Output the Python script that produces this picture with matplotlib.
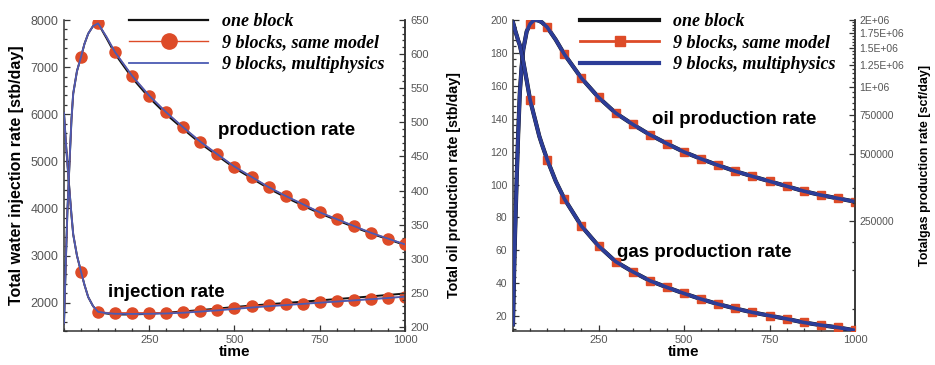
import matplotlib
matplotlib.use('Agg')
import matplotlib.pyplot as plt
from matplotlib.ticker import MultipleLocator, FixedLocator, FixedFormatter, NullFormatter
from matplotlib.lines import Line2D

# ========== [ DATA : left panel (water injection / oil production) ] ==========
t_left = [0, 5, 10, 17, 22, 27, 38, 50, 60, 71, 85, 100, 125, 150, 200, 250, 300, 350, 400,
          450, 500, 550, 600, 650, 700, 750, 800, 850, 900, 950, 1000]

# oil production rate [stb/day] (right axis)
prod_same  = [205, 290, 370, 450, 505, 542, 575, 596, 615, 630, 641, 645, 625, 602.6, 568, 539,
              514.5, 492.5, 471.5, 453, 435, 420, 405, 392, 380, 368, 358, 348, 338, 329.5, 321]
prod_multi = [205, 290, 370, 450, 505, 542, 575, 596, 615, 630, 641, 645, 625, 602.6, 568, 539,
              514.5, 492.5, 471.5, 453, 435, 420, 405, 392, 380, 368, 358, 348, 338, 329.5, 321]
prod_one   = [205, 290, 370, 450, 505, 542, 575, 596, 615, 630, 641, 645, 623, 600, 565, 536,
              511.5, 490, 469, 451, 433, 418, 403, 390, 378, 366.5, 356.5, 346.5, 337, 328.5, 320]

# water injection rate [stb/day] (left axis)
inj_same  = [6030, 5450, 4950, 4300, 3850, 3450, 3000, 2656, 2380, 2120, 1930, 1807, 1790, 1786,
             1786, 1786, 1790, 1799, 1835, 1856, 1892, 1926, 1947, 1968, 1983, 2011, 2032, 2053,
             2082, 2103, 2125]
inj_multi = [6030, 5450, 4950, 4300, 3850, 3450, 3000, 2656, 2380, 2120, 1930, 1807, 1780, 1765,
             1762, 1765, 1772, 1788, 1812, 1838, 1868, 1898, 1925, 1950, 1975, 2000, 2025, 2050,
             2075, 2100, 2130]
inj_one   = [6030, 5450, 4950, 4300, 3850, 3450, 3000, 2656, 2380, 2120, 1930, 1800, 1770, 1750,
             1750, 1765, 1790, 1815, 1845, 1875, 1910, 1940, 1968, 1995, 2022, 2050, 2078, 2105,
             2135, 2165, 2195]

# ========== [ DATA : right panel (oil / gas production) ] ==========
t_right = [0, 3, 6, 11, 15, 20, 25, 30, 40, 50, 60, 67, 77, 85, 100, 125, 150, 200, 250, 300,
           350, 400, 450, 500, 550, 600, 650, 700, 750, 800, 850, 900, 950, 1000]

oil_rate = [15, 45, 70, 105, 130, 156, 171, 182, 193, 197.6, 199.7, 200, 199.5, 198.5, 195.6,
            188, 179.2, 164.7, 153, 143.5, 136.6, 130.3, 124.9, 119.8, 115.6, 111.7, 108.1, 105,
            102, 99, 96, 93.6, 91.6, 89.6]
gas_rate = [1950000, 1880000, 1800000, 1700000, 1620000, 1540000, 1420000, 1300000, 1070000,
            875600, 760000, 690000, 600000, 550000, 471800, 377000, 314600, 237200, 193000,
            164200, 147800, 134600, 125700, 118000, 111300, 105600, 101000, 97000, 93800, 90700,
            87400, 85000, 83000, 80500]

legend_labels = ['one block', '9 blocks, same model', '9 blocks, multiphysics']
gas_ticks = [250000, 500000, 750000, 1000000, 1250000, 1500000, 1750000, 2000000]
gas_tick_labels = ['250000', '500000', '750000', '1E+06', '1.25E+06', '1.5E+06', '1.75E+06', '2E+06']

# ========== [ STYLE ] ==========
BLACK = '#111111'
RED = '#dd4b28'
BLUE_L = '#4b5bb3'
BLUE_R = '#2c3d98'
TICK_C = '#555555'
SPINE_C = '#333333'
SANS = 'Liberation Sans'
LEG_FONT = {'family': 'Liberation Serif', 'weight': 'bold', 'style': 'italic', 'size': 13}

W, H = 935, 365


def frac_box(x0, y0, x1, y1):
    return [x0 / W, 1 - y1 / H, (x1 - x0) / W, (y1 - y0) / H]


def style_axes(ax):
    ax.spines['top'].set_visible(False)
    for s in ax.spines.values():
        s.set_color(SPINE_C)
        s.set_linewidth(1.1)
    ax.tick_params(which='both', direction='in', colors=SPINE_C, labelcolor=TICK_C, width=0.9)
    ax.tick_params(which='major', length=4.5)
    ax.tick_params(which='minor', length=2.5)
    for lab in ax.get_xticklabels() + ax.get_yticklabels():
        lab.set_family(SANS)


fig = plt.figure(figsize=(9.35, 3.65), dpi=100)

# ========== [ LEFT PANEL ] ==========
ax1 = fig.add_axes(frac_box(64, 20, 405, 331))
ax1r = ax1.twinx()

mk_idx_l = [i for i, t in enumerate(t_left) if t > 0 and t % 50 == 0]

ax1.plot(t_left, inj_one, color=BLACK, lw=1.4, zorder=2)
ax1.plot(t_left, inj_same, color=RED, lw=1.0, marker='o', ms=8, mfc=RED, mec=RED,
         markevery=mk_idx_l, zorder=3)
ax1.plot(t_left, inj_multi, color=BLUE_L, lw=1.3, zorder=4)

ax1r.plot(t_left, prod_one, color=BLACK, lw=1.4, zorder=2)
ax1r.plot(t_left, prod_same, color=RED, lw=1.0, marker='o', ms=8, mfc=RED, mec=RED,
          markevery=mk_idx_l, zorder=3)
ax1r.plot(t_left, prod_multi, color=BLUE_L, lw=1.3, zorder=4)

ax1.set_xlim(0, 1000)
ax1.set_ylim(1400, 8000)
ax1r.set_ylim(194, 650)
ax1.xaxis.set_major_locator(FixedLocator([250, 500, 750, 1000]))
ax1.xaxis.set_minor_locator(MultipleLocator(50))
ax1.yaxis.set_major_locator(MultipleLocator(1000))
ax1.yaxis.set_minor_locator(MultipleLocator(200))
ax1r.yaxis.set_major_locator(MultipleLocator(50))
ax1r.yaxis.set_minor_locator(MultipleLocator(10))

style_axes(ax1)
style_axes(ax1r)
ax1.tick_params(axis='x', labelsize=8, pad=3)
ax1.tick_params(axis='y', labelsize=9, pad=4)
ax1r.tick_params(axis='y', labelsize=8, pad=4)
ax1r.spines['left'].set_visible(False)
ax1r.spines['bottom'].set_visible(False)

ax1.text(452, 5665, 'production rate', fontsize=13.5, fontweight='bold', family=SANS,
         va='center', ha='left')
ax1.text(129, 2225, 'injection rate', fontsize=13.5, fontweight='bold', family=SANS,
         va='center', ha='left')

h_left = [Line2D([], [], color=BLACK, lw=1.6),
          Line2D([], [], color=RED, lw=1.0, marker='o', ms=11, mfc=RED, mec=RED),
          Line2D([], [], color=BLUE_L, lw=1.3)]
ax1r.legend(h_left, legend_labels, loc='upper left', bbox_to_anchor=(0.19, 1.023),
            frameon=False, prop=LEG_FONT, handlelength=4.4, handletextpad=0.75,
            labelspacing=0.25, borderpad=0, borderaxespad=0)

# ========== [ RIGHT PANEL ] ==========
ax2 = fig.add_axes(frac_box(513, 20, 855, 331))
ax2r = ax2.twinx()

mk_idx_r = [i for i, t in enumerate(t_right) if t > 0 and t % 50 == 0]

ax2.plot(t_right, oil_rate, color=BLACK, lw=3.0, zorder=2)
ax2.plot(t_right, oil_rate, color=RED, lw=1.6, marker='s', ms=6, mfc=RED, mec=RED,
         markevery=mk_idx_r, zorder=3)
ax2.plot(t_right, oil_rate, color=BLUE_R, lw=2.6, zorder=4)

ax2r.plot(t_right, gas_rate, color=BLACK, lw=3.0, zorder=2)
ax2r.plot(t_right, gas_rate, color=RED, lw=1.6, marker='s', ms=6, mfc=RED, mec=RED,
          markevery=mk_idx_r, zorder=3)
ax2r.plot(t_right, gas_rate, color=BLUE_R, lw=2.6, zorder=4)

ax2.set_xlim(0, 1000)
ax2.set_ylim(11, 200)
ax2r.set_yscale('log')
ax2r.set_ylim(80000, 2000000)
ax2.xaxis.set_major_locator(FixedLocator([250, 500, 750, 1000]))
ax2.xaxis.set_minor_locator(MultipleLocator(50))
ax2.yaxis.set_major_locator(MultipleLocator(20))
ax2.yaxis.set_minor_locator(MultipleLocator(4))
ax2r.yaxis.set_major_locator(FixedLocator(gas_ticks))
ax2r.yaxis.set_major_formatter(FixedFormatter(gas_tick_labels))
ax2r.yaxis.set_minor_locator(FixedLocator([v for v in range(100000, 2000000, 50000)
                                           if v not in gas_ticks]))
ax2r.yaxis.set_minor_formatter(NullFormatter())

style_axes(ax2)
style_axes(ax2r)
ax2.tick_params(axis='x', labelsize=8, pad=3)
ax2.tick_params(axis='y', labelsize=7.5, pad=4)
ax2r.tick_params(axis='y', labelsize=7.5, pad=3)
ax2r.spines['left'].set_visible(False)
ax2r.spines['bottom'].set_visible(False)

ax2.text(406, 139.4, 'oil production rate', fontsize=13.5, fontweight='bold', family=SANS,
         va='center', ha='left')
ax2.text(304, 58.8, 'gas production rate', fontsize=13.5, fontweight='bold', family=SANS,
         va='center', ha='left')

h_right = [Line2D([], [], color=BLACK, lw=3.0),
           Line2D([], [], color=RED, lw=2.0, marker='s', ms=7, mfc=RED, mec=RED),
           Line2D([], [], color=BLUE_R, lw=3.0)]
ax2r.legend(h_right, legend_labels, loc='upper left', bbox_to_anchor=(0.196, 1.023),
            frameon=False, prop=LEG_FONT, handlelength=4.4, handletextpad=0.75,
            labelspacing=0.25, borderpad=0, borderaxespad=0)

# ========== [ AXIS LABELS ] ==========
lab = dict(family=SANS, fontweight='bold', rotation=90, ha='center', va='center')
fig.text(17 / W, 1 - 175 / H, 'Total water injection rate [stb/day]', fontsize=11.5, **lab)
fig.text(454 / W, 1 - 185 / H, 'Total oil production rate [stb/day]', fontsize=10.3, **lab)
fig.text(925 / W, 1 - 165 / H, 'Totalgas production rate [scf/day]', fontsize=9, **lab)
fig.text(234.5 / W, 1 - 352 / H, 'time', family=SANS, fontweight='bold', fontsize=11,
         ha='center', va='center')
fig.text(684 / W, 1 - 352 / H, 'time', family=SANS, fontweight='bold', fontsize=11,
         ha='center', va='center')

plt.savefig('out.png', dpi=100)
